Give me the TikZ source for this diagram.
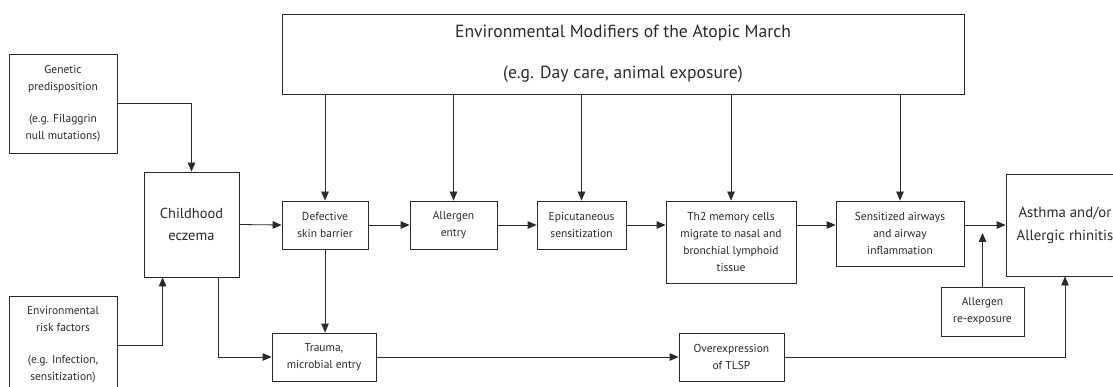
\documentclass[tikz,border=0pt]{standalone}
\usepackage{fontspec}
\setmainfont{PT Sans}
\usetikzlibrary{arrows.meta}
\definecolor{ink}{HTML}{2A2A2A}
\tikzset{
  box/.style={draw=ink, line width=0.8pt, text=ink, align=center, inner sep=0pt, font=\fontsize{11.5}{17}\selectfont},
  bigbox/.style={box, font=\fontsize{14.8}{23}\selectfont},
  arr/.style={draw=ink, line width=0.8pt, -{Triangle[length=9pt,width=7.5pt]}}
}
\begin{document}
\begin{tikzpicture}[x=1pt,y=-1pt]
\useasboundingbox (0,0) rectangle (1113,387);
\clip (0,0) rectangle (1113,387);
\node[box, minimum width=108pt, minimum height=99pt] (gen) at (63,103.5) {Genetic\\predisposition\\[15pt](e.g. Filaggrin\\null mutations)};
\node[box, minimum width=108pt, minimum height=98pt] (envr) at (63,345) {Environmental\\risk factors\\[15pt](e.g. Infection,\\sensitization)};
\node[bigbox, minimum width=95pt, minimum height=105pt, font=\fontsize{14.5}{22}\selectfont] (child) at (191.5,224.5) {Childhood\\eczema};
\node[box, minimum width=682pt, minimum height=80pt, font=\fontsize{17.6}{41}\selectfont] (top) at (623,54) {Environmental Modifiers of the Atopic March\\(e.g. Day care, animal exposure)};
\node[box, minimum width=86pt, minimum height=48pt] (def) at (325,225) {Defective\\skin barrier};
\node[box, minimum width=87pt, minimum height=48pt] (all) at (453.5,225) {Allergen\\entry};
\node[box, minimum width=89pt, minimum height=48pt] (epi) at (581.5,225) {Epicutaneous\\sensitization};
\node[box, minimum width=130pt, minimum height=82pt] (th2) at (731,242) {Th{\addfontfeatures{Numbers=OldStyle}2} memory cells\\migrate to nasal and\\bronchial lymphoid\\tissue};
\node[box, minimum width=128pt, minimum height=65pt] (sens) at (900,233.5) {Sensitized airways\\and airway\\inflammation};
\node[bigbox, minimum width=118pt, minimum height=102pt] (asth) at (1065,225) {Asthma and/or\\Allergic rhinitis};
\node[box, minimum width=83pt, minimum height=49pt] (reexp) at (982.5,311.5) {Allergen\\re-exposure};
\node[box, minimum width=104pt, minimum height=48pt] (trauma) at (324,357) {Trauma,\\microbial entry};
\node[box, minimum width=105pt, minimum height=48pt] (over) at (731.5,357) {Overexpression\\of TLSP};
\coordinate (rx) at (982.5,233);
% arrows
\draw[arr] (gen.east) -| (child.north);
\draw[arr] (envr.east) -| ([xshift=19pt]child.south west);
\draw[arr] (child.east) -- (def.west);
\draw[arr] ([xshift=75pt]child.south west) |- (trauma.west);
\foreach \n in {def,all,epi,th2,sens} \draw[arr] (top.south -| \n.north) -- (\n.north);
\draw[arr] (def.east) -- (all.west);
\draw[arr] (all.east) -- (epi.west);
\draw[arr] (epi.east) -- (epi.east -| th2.west);
\draw[arr] (th2.east |- def.east) -- (sens.west |- def.east);
\draw[arr] (sens.east |- def.east) -- (asth.west);
\draw[arr] (reexp.north) -- (rx);
\draw[arr] (def.south) -- (def.south |- trauma.north);
\draw[arr] (trauma.east) -- (over.west);
\draw[arr] (over.east) -| (asth.south);
\end{tikzpicture}
\end{document}
